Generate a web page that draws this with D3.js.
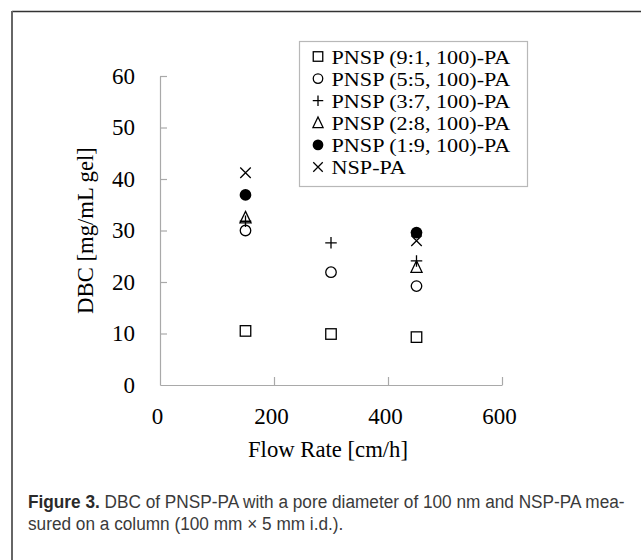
<!DOCTYPE html>
<html>
<head>
<meta charset="utf-8">
<script src="https://cdn.jsdelivr.net/npm/d3@7"></script>
<style>
  html, body { margin: 0; padding: 0; background: #fff; }
  svg { display: block; }
</style>
</head>
<body>
<svg id="chart" width="641" height="560"></svg>
<script>
// ---- data ----
const flowRates = [150, 300, 450];
const seriesNames = ["PNSP (9:1, 100)-PA", "PNSP (5:5, 100)-PA", "PNSP (3:7, 100)-PA", "PNSP (2:8, 100)-PA", "PNSP (1:9, 100)-PA", "NSP-PA"];
const seriesSymbols = ["square", "circle", "plus", "triangle", "dot", "cross"];
const dbc_9_1 = [10.5, 9.9, 9.3];
const dbc_5_5 = [30.0, 21.9, 19.2];
const dbc_3_7 = [31.8, 27.6, 24.1];
const dbc_2_8 = [32.5, null, 22.9];
const dbc_1_9 = [36.9, null, 29.6];
const dbc_nsp = [41.2, null, 28.0];
const xTicks = [0, 200, 400, 600];
const yTicks = [0, 10, 20, 30, 40, 50, 60];
const xTitle = "Flow Rate [cm/h]";
const yTitle = "DBC [mg/mL gel]";
const captionBold = "Figure 3.";
const captionLine1 = " DBC of PNSP-PA with a pore diameter of 100 nm and NSP-PA mea-";
const captionLine2 = "sured on a column (100 mm × 5 mm i.d.).";

const seriesValues = [dbc_9_1, dbc_5_5, dbc_3_7, dbc_2_8, dbc_1_9, dbc_nsp];

// ---- setup ----
const svg = d3.select("#chart");
const serif = "'Liberation Serif', 'Times New Roman', serif";
const axisColor = "#a9a9a9";

// outer frame
svg.append("line").attr("x1", 12).attr("x2", 641).attr("y1", 11.5).attr("y2", 11.5)
  .attr("stroke", "#333").attr("stroke-width", 1.5);
svg.append("line").attr("x1", 12).attr("x2", 12).attr("y1", 11).attr("y2", 560)
  .attr("stroke", "#666").attr("stroke-width", 2);

const x = d3.scaleLinear().domain([0, 600]).range([160, 502]);
const y = d3.scaleLinear().domain([0, 60]).range([385, 76]);

// axes
const xAxis = svg.append("g").attr("transform", `translate(0,${y(0)})`)
  .call(d3.axisBottom(x).tickValues(xTicks).tickSizeInner(-8).tickSizeOuter(0).tickPadding(23).tickFormat(d3.format("d")));
const yAxis = svg.append("g").attr("transform", `translate(${x(0)},0)`)
  .call(d3.axisLeft(y).tickValues(yTicks).tickSizeInner(-7).tickSizeOuter(0).tickPadding(25).tickFormat(d3.format("d")));

[xAxis, yAxis].forEach(g => {
  g.select(".domain").attr("stroke", axisColor).attr("stroke-width", 1.2);
  g.selectAll(".tick line").attr("stroke", axisColor).attr("stroke-width", 1.2);
  g.selectAll(".tick text").attr("fill", "#000").style("font-family", serif).style("font-size", "23px");
});
xAxis.selectAll(".tick text").attr("dx", -3);
xAxis.selectAll(".tick").filter(d => d === 0).select("line").remove();
yAxis.selectAll(".tick").filter(d => d === 0).select("line").remove();

// axis titles
svg.append("text").attr("x", 328).attr("y", 457).attr("text-anchor", "middle")
  .style("font-family", serif).style("font-size", "22.7px").attr("fill", "#000").text(xTitle);
svg.append("text").attr("transform", `translate(93,${(y(0) + y(60)) / 2}) rotate(-90)`)
  .attr("text-anchor", "middle")
  .style("font-family", serif).style("font-size", "22.7px").attr("fill", "#000").text(yTitle);

// marker drawing
function drawMarker(g, type, cx, cy, s) {
  const h = s / 2;
  const sw = 1.3;
  if (type === "square") {
    g.append("rect").attr("x", cx - h).attr("y", cy - h).attr("width", s).attr("height", s)
      .attr("fill", "#fff").attr("stroke", "#000").attr("stroke-width", sw);
  } else if (type === "circle") {
    g.append("circle").attr("cx", cx).attr("cy", cy).attr("r", h)
      .attr("fill", "none").attr("stroke", "#000").attr("stroke-width", sw);
  } else if (type === "dot") {
    g.append("circle").attr("cx", cx).attr("cy", cy).attr("r", h + 0.6).attr("fill", "#000");
  } else if (type === "plus") {
    g.append("path").attr("d", `M${cx - h - 0.5},${cy}H${cx + h + 0.5}M${cx},${cy - h - 0.5}V${cy + h + 0.5}`)
      .attr("stroke", "#000").attr("stroke-width", sw).attr("fill", "none");
  } else if (type === "triangle") {
    g.append("path").attr("d", `M${cx},${cy - h - 1}L${cx + h + 0.3},${cy + h}L${cx - h - 0.3},${cy + h}Z`)
      .attr("stroke", "#000").attr("stroke-width", sw).attr("fill", "none");
  } else if (type === "cross") {
    g.append("path").attr("d", `M${cx - h},${cy - h}L${cx + h},${cy + h}M${cx + h},${cy - h}L${cx - h},${cy + h}`)
      .attr("stroke", "#000").attr("stroke-width", sw).attr("fill", "none");
  }
}

// points
const pts = svg.append("g");
seriesValues.forEach((vals, i) => {
  vals.forEach((v, j) => {
    if (v === null) return;
    drawMarker(pts, seriesSymbols[i], x(flowRates[j]), y(v), 10.5);
  });
});

// legend
const lg = svg.append("g");
lg.append("rect").attr("x", 299.5).attr("y", 41.5).attr("width", 228).attr("height", 145)
  .attr("fill", "#fff").attr("stroke", "#b8b8b8").attr("stroke-width", 1.2);
seriesNames.forEach((name, i) => {
  const cy = 56.5 + i * 22.1;
  drawMarker(lg, seriesSymbols[i], 318, cy, 9.5);
  lg.append("text").attr("x", 0).attr("y", 0)
    .attr("transform", `translate(331.5,${cy + 7}) scale(1.12,1)`)
    .style("font-family", serif).style("font-size", "19.8px").attr("fill", "#000").text(name);
});

// caption
const capFont = "'Liberation Sans', Arial, sans-serif";
const cap = svg.append("g");
const t1 = cap.append("text").attr("x", 0).attr("y", 0)
  .style("font-family", capFont).style("font-size", "19px").attr("fill", "#3a3a3a");
t1.append("tspan").style("font-weight", "bold").attr("fill", "#2a2a2a").text(captionBold);
t1.append("tspan").text(captionLine1);
const t2 = cap.append("text").attr("x", 0).attr("y", 22)
  .style("font-family", capFont).style("font-size", "19px").attr("fill", "#3a3a3a").text(captionLine2);
const w1 = t1.node().getComputedTextLength();
const sx = 597 / w1;
cap.attr("transform", `translate(28,508) scale(${sx},1)`);
</script>
</body>
</html>
